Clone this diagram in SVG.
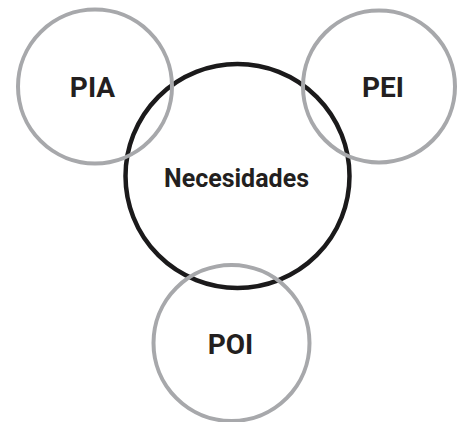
<svg xmlns="http://www.w3.org/2000/svg" width="459" height="422" viewBox="0 0 459 422">
<style>
.outer{fill:none;stroke:#a7a8ab;stroke-width:4}
.core{fill:none;stroke:#1b1a1b;stroke-width:4.5}
.lbl{font-family:Roboto,"Liberation Sans",sans-serif;font-weight:bold;fill:#231f20;text-anchor:middle}
.big{font-size:28px}
.mid{font-size:25px}
</style>
<rect width="459" height="422" fill="#ffffff"/>
<g id="connectors"></g>
<g id="necesidades">
<circle class="core" cx="237.5" cy="176" r="112"/>
<text class="lbl mid" x="236.5" y="187">Necesidades</text>
</g>
<g id="pia">
<circle class="outer" cx="95" cy="86.5" r="77"/>
<text class="lbl big" x="92.5" y="97">PIA</text>
</g>
<g id="pei">
<circle class="outer" cx="379" cy="86.5" r="76"/>
<text class="lbl big" x="383" y="97">PEI</text>
</g>
<g id="poi">
<circle class="outer" cx="231.5" cy="343" r="78"/>
<text class="lbl big" x="230.5" y="354">POI</text>
</g>
</svg>
